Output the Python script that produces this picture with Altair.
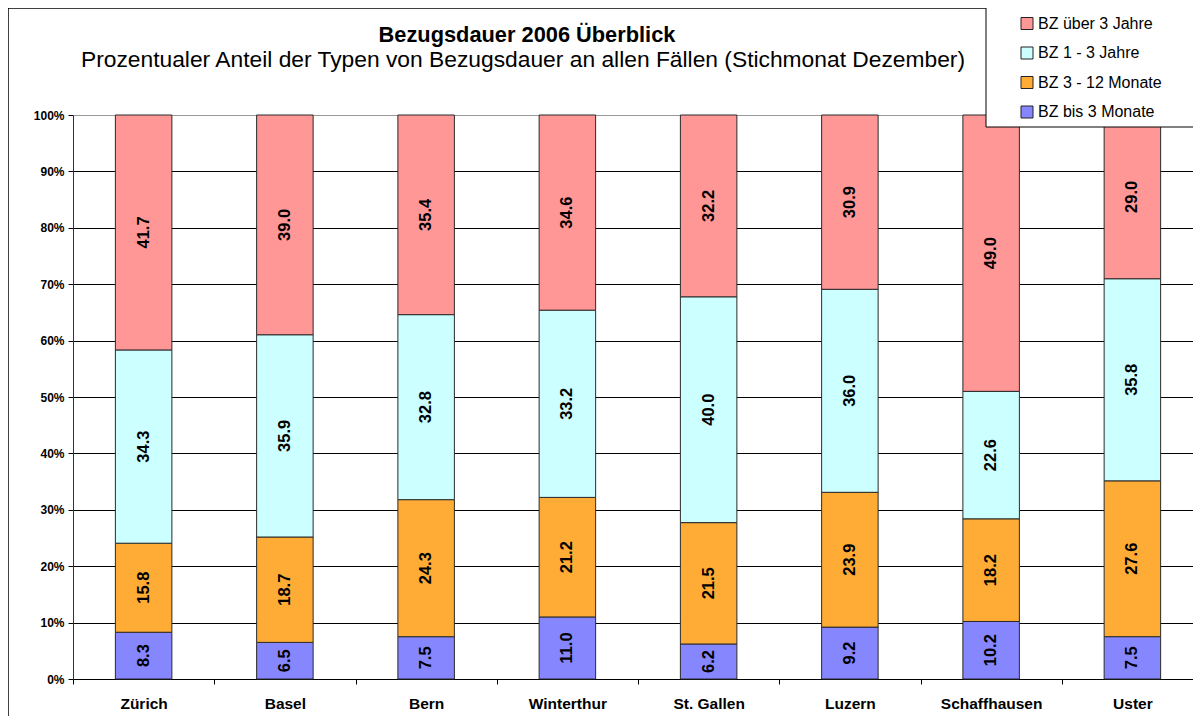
import altair as alt
import pandas as pd

cities = ["Zürich", "Basel", "Bern", "Winterthur", "St. Gallen", "Luzern", "Schaffhausen", "Uster"]
series_bottom_up = ["BZ bis 3 Monate", "BZ 3 - 12 Monate", "BZ 1 - 3 Jahre", "BZ über 3 Jahre"]
bis_3_monate = [8.3, 6.5, 7.5, 11.0, 6.2, 9.2, 10.2, 7.5]
monate_3_12 = [15.8, 18.7, 24.3, 21.2, 21.5, 23.9, 18.2, 27.6]
jahre_1_3 = [34.3, 35.9, 32.8, 33.2, 40.0, 36.0, 22.6, 35.8]
ueber_3_jahre = [41.7, 39.0, 35.4, 34.6, 32.2, 30.9, 49.0, 29.0]
colors_bottom_up = ["#8686FF", "#FFAC36", "#CCFFFF", "#FF9797"]
y_ticks = [0, 0.1, 0.2, 0.3, 0.4, 0.5, 0.6, 0.7, 0.8, 0.9, 1.0]
title_text = "Bezugsdauer 2006 Überblick"
subtitle_text = "Prozentualer Anteil der Typen von Bezugsdauer an allen Fällen (Stichmonat Dezember)"

FONT = "Liberation Sans"
all_values = [bis_3_monate, monate_3_12, jahre_1_3, ueber_3_jahre]
rows = []
for si, (name, vals) in enumerate(zip(series_bottom_up, all_values)):
    for c, v in zip(cities, vals):
        rows.append({"city": c, "series": name, "value": v, "order": si})
df = pd.DataFrame(rows)

legend_order = series_bottom_up[::-1]
legend_colors = colors_bottom_up[::-1]

W = 1120
H = 564

base = alt.Chart(df).transform_stack(
    stack="value", groupby=["city"], as_=["y0", "y1"], offset="normalize",
    sort=[alt.SortField("order", "ascending")]
).transform_calculate(mid="(datum.y0 + datum.y1) / 2")

xenc = alt.X("city:N", sort=cities,
             scale=alt.Scale(domain=cities, range=[0, 1130], paddingInner=0, paddingOuter=0),
             axis=alt.Axis(title=None, tickBand="extent", labelAngle=0, labelFont=FONT,
                           labelFontWeight="bold", labelFontSize=15.5, labelColor="black",
                           domainColor="black", tickColor="black", tickSize=5, labelPadding=12,
                           grid=False))

bars = base.mark_bar(width=alt.RelativeBandSize(0.4), stroke="#2a2a2a", strokeWidth=1).encode(
    x=xenc,
    y=alt.Y("y0:Q", scale=alt.Scale(domain=[0, 1], nice=False),
            axis=alt.Axis(title=None, format=".0%", values=y_ticks, grid=True,
                          gridColor=alt.condition("datum.value == 1", alt.value("#999999"), alt.value("black")),
                          gridWidth=1, labelFont=FONT, labelFontWeight="bold", labelFontSize=12,
                          labelColor="black", tickColor="black", tickSize=5, labelPadding=4,
                          domainColor="#333333")),
    y2="y1:Q",
    color=alt.Color("series:N", scale=alt.Scale(domain=legend_order, range=legend_colors),
                    legend=alt.Legend(title=None, orient="none", legendX=946, legendY=-99.5,
                                      symbolType="square", symbolSize=144, symbolStrokeColor="#222222",
                                      symbolStrokeWidth=1, symbolOpacity=1, labelFont=FONT,
                                      labelFontSize=16, labelColor="black", rowPadding=13.5,
                                      labelOffset=3, padding=0)),
)

labels = base.mark_text(angle=270, font=FONT, fontWeight="bold", fontSize=16.5, color="black",
                        align="center", baseline="middle").encode(
    x=alt.X("city:N", sort=cities),
    y=alt.Y("mid:Q"),
    text=alt.Text("value:Q", format=".1f"),
)

one = pd.DataFrame({"t": [title_text], "s": [subtitle_text]})
title = alt.Chart(one).mark_text(font=FONT, fontWeight="bold", fontSize=21.8, color="black",
                                 align="center", baseline="alphabetic").encode(
    text="t:N", x=alt.value(454), y=alt.value(-73))
subtitle = alt.Chart(one).mark_text(font=FONT, fontSize=22.8, color="black",
                                    align="center", baseline="alphabetic").encode(
    text="s:N", x=alt.value(450), y=alt.value(-48))

legend_box = alt.Chart(one).mark_rect(fill="white", stroke="black", strokeWidth=1).encode(
    x=alt.value(913), x2=alt.value(1140), y=alt.value(-108), y2=alt.value(12))

frame_left = alt.Chart(one).mark_rule(color="black", strokeWidth=1.5).encode(
    x=alt.value(-65), y=alt.value(-107), y2=alt.value(700))
frame_top = alt.Chart(one).mark_rule(color="black", strokeWidth=1.5).encode(
    x=alt.value(-65), x2=alt.value(1140), y=alt.value(-107))

chart = alt.layer(bars, labels, title, subtitle, frame_left, frame_top, legend_box).properties(
    width=W, height=H,
    autosize=alt.AutoSizeParams(type="none"),
    padding={"left": 65, "top": 107, "right": 0, "bottom": 37},
).configure_view(stroke=None).configure(background="white")

chart.save("out.html", embed_options={"renderer": "svg", "actions": False})
